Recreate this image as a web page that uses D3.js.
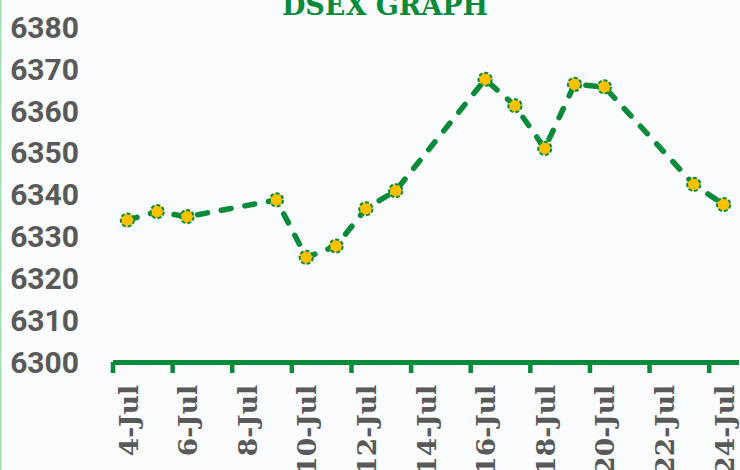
<!DOCTYPE html>
<html>
<head>
<meta charset="utf-8">
<script src="https://cdn.jsdelivr.net/npm/d3@7"></script>
<style>
  html, body { margin: 0; padding: 0; background: #f9fbfc; }
  #chart { width: 740px; height: 470px; }
</style>
</head>
<body>
<div id="chart"></div>
<script>
// DSEX graph, July
var dates = ['2023-07-04', '2023-07-05', '2023-07-06', '2023-07-09', '2023-07-10',
             '2023-07-11', '2023-07-12', '2023-07-13', '2023-07-16', '2023-07-17',
             '2023-07-18', '2023-07-19', '2023-07-20', '2023-07-23', '2023-07-24'];
var dsex = [6333.9, 6335.9, 6334.7, 6338.7, 6325.0,
            6327.7, 6336.6, 6340.9, 6367.5, 6361.2,
            6351.0, 6366.3, 6365.7, 6342.4, 6337.6];
var yTicks = [6300, 6310, 6320, 6330, 6340, 6350, 6360, 6370, 6380];
var xStart = '2023-07-04', xEnd = '2023-07-25';
var title = 'DSEX GRAPH';

(function() {
    'use strict';

    var width = 740, height = 470;
    var green = '#078a3a', gold = '#ffc000', grey = '#595959';
    var parse = d3.timeParse('%Y-%m-%d');

    var svg = d3.select('#chart')
      .append('svg')
        .attr('width', width)
        .attr('height', height);

    svg.append('rect')
        .attr('width', width)
        .attr('height', height)
        .attr('fill', '#f9fbfc');

    // thin green frame on the left edge
    svg.append('line')
        .attr('x1', 0.75).attr('x2', 0.75)
        .attr('y1', 0).attr('y2', height)
        .attr('stroke', '#a6dcb6')
        .attr('stroke-width', 1.5);

    var x = d3.scaleTime()
        .domain([parse(xStart), parse(xEnd)])
        .range([112.5, 738.5]);

    var y = d3.scaleLinear()
        .domain([6300, 6380])
        .range([362, 27]);

    // points sit in the middle of their day
    var mid = function(d) { return x(d3.timeHour.offset(d, 12)); };

    var data = dates.map(function(d, i) { return {date: parse(d), value: dsex[i]}; });

    // title, cut by the top edge
    svg.append('text')
        .attr('x', 385)
        .attr('y', 15)
        .attr('text-anchor', 'middle')
        .attr('font-family', 'DejaVu Serif')
        .attr('font-weight', 'bold')
        .attr('font-size', 27)
        .attr('fill', green)
        .text(title);

    // y labels, no axis line
    svg.append('g')
        .selectAll('text')
        .data(yTicks)
        .join('text')
          .attr('x', 79)
          .attr('y', function(d) { return y(d); })
          .attr('dy', '0.36em')
          .attr('text-anchor', 'end')
          .attr('font-family', 'Roboto')
          .attr('font-weight', 'bold')
          .attr('font-size', 30)
          .attr('fill', grey)
          .text(function(d) { return d; });

    // x axis: ticks on day edges every 2 days from the start, labels at day centres
    var xAxis = d3.axisBottom(x)
        .tickValues(d3.timeDay.range(parse(xStart), parse(xEnd), 2))
        .tickSize(11)
        .tickSizeOuter(0)
        .tickFormat(d3.timeFormat('%-d-%b'));

    var gx = svg.append('g')
        .attr('transform', 'translate(0,' + y(6300) + ')')
        .call(xAxis);

    gx.select('.domain')
        .attr('stroke', green)
        .attr('stroke-width', 5);
    gx.selectAll('.tick line')
        .attr('stroke', green)
        .attr('stroke-width', 4.5);
    gx.selectAll('.tick text')
        .attr('font-family', 'DejaVu Serif')
        .attr('font-weight', 'bold')
        .attr('font-size', 26.5)
        .attr('fill', grey)
        .attr('text-anchor', 'end')
        .attr('transform', 'translate(15,23) rotate(-90)')
        .attr('x', 0)
        .attr('y', 0)
        .attr('dy', '0.36em');

    var line = d3.line()
        .x(function(d) { return mid(d.date); })
        .y(function(d) { return y(d.value); });

    svg.append('path')
        .datum(data)
        .attr('fill', 'none')
        .attr('stroke', green)
        .attr('stroke-width', 5.5)
        .attr('stroke-linecap', 'round')
        .attr('stroke-dasharray', '10,14')
        .attr('d', line);

    svg.append('g')
        .selectAll('circle')
        .data(data)
        .join('circle')
          .attr('cx', function(d) { return mid(d.date); })
          .attr('cy', function(d) { return y(d.value); })
          .attr('r', 6.6)
          .attr('fill', gold)
          .attr('stroke', green)
          .attr('stroke-width', 2)
          .attr('stroke-dasharray', '4,2');
}());
</script>
</body>
</html>
